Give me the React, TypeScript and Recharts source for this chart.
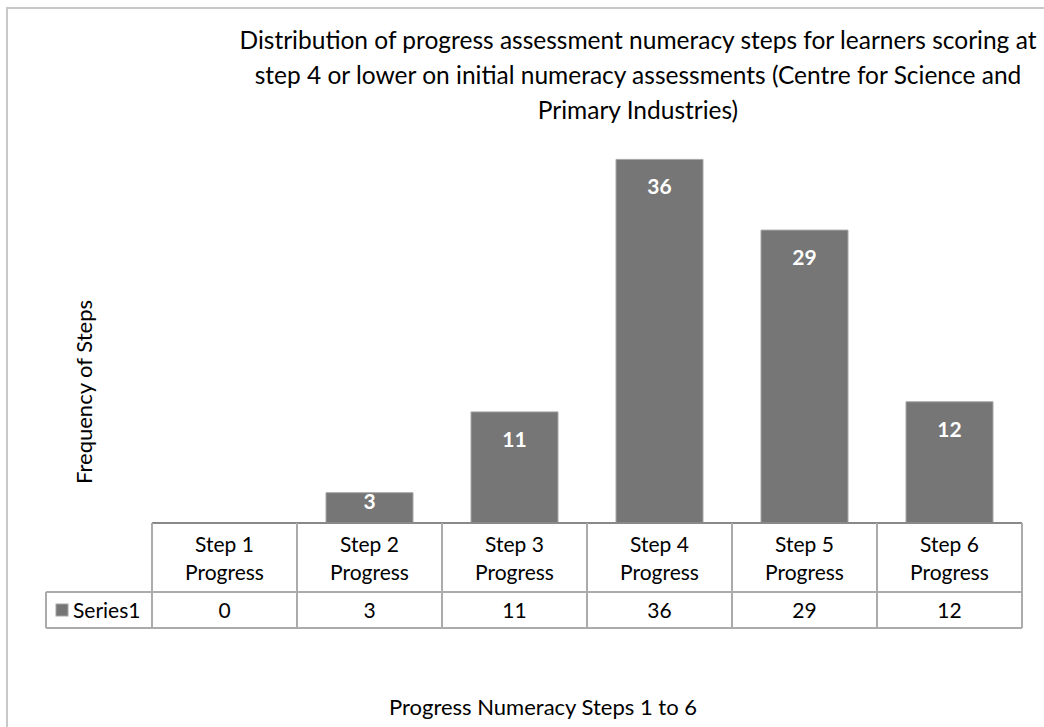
import { Bar, BarChart, LabelList, XAxis, YAxis } from "recharts";

const categories = [
  "Step 1 Progress",
  "Step 2 Progress",
  "Step 3 Progress",
  "Step 4 Progress",
  "Step 5 Progress",
  "Step 6 Progress",
];
const series1 = [0, 3, 11, 36, 29, 12];
const seriesName = "Series1";
const titleLines = [
  "Distribution of progress assessment numeracy steps for learners scoring at",
  "step 4 or lower on initial numeracy assessments (Centre for Science and",
  "Primary Industries)",
];
const yTitle = "Frequency of Steps";
const xTitle = "Progress Numeracy Steps 1 to 6";

const W = 1044;
const H = 727;
const margin = { top: 119, right: 22, bottom: 100, left: 152 };
const X_AXIS_H = 104;
const PLOT_BOTTOM = H - margin.bottom - X_AXIS_H;
const BAND = (W - margin.left - margin.right) / categories.length;
const ROW1 = PLOT_BOTTOM + 69;
const ROW2 = ROW1 + 36;
const FONT = "Lato, 'Open Sans', sans-serif";
const BAR_COLOR = "#767676";
const GRID = "#ababab";

const data = categories.map((c, i) => ({ category: c, value: series1[i] }));

function TableTick(props: any) {
  const { payload, index } = props;
  const cx = payload.coordinate;
  const x0 = cx - BAND / 2;
  const x1 = cx + BAND / 2;
  const label = String(payload.value);
  const cut = label.lastIndexOf(" ");
  const line1 = label.slice(0, cut);
  const line2 = label.slice(cut + 1);
  const last = index === categories.length - 1;

  return (
    <g fontFamily={FONT} fontSize={21} fill="#000">
      <line x1={x0} y1={PLOT_BOTTOM} x2={x0} y2={ROW2} stroke={GRID} strokeWidth={2} />
      {last && <line x1={x1} y1={PLOT_BOTTOM} x2={x1} y2={ROW2} stroke={GRID} strokeWidth={2} />}
      <line x1={x0} y1={ROW1} x2={x1} y2={ROW1} stroke={GRID} strokeWidth={2} />
      <line x1={x0} y1={ROW2} x2={x1} y2={ROW2} stroke={GRID} strokeWidth={2} />
      <text x={cx} y={PLOT_BOTTOM + 29} textAnchor="middle">{line1}</text>
      <text x={cx} y={PLOT_BOTTOM + 57} textAnchor="middle">{line2}</text>
      <text x={cx} y={ROW2 - 10} textAnchor="middle">{series1[index]}</text>
      {index === 0 && (
        <g>
          <line x1={46} y1={ROW1} x2={x0} y2={ROW1} stroke={GRID} strokeWidth={2} />
          <line x1={46} y1={ROW2} x2={x0} y2={ROW2} stroke={GRID} strokeWidth={2} />
          <line x1={46} y1={ROW1} x2={46} y2={ROW2} stroke={GRID} strokeWidth={2} />
          <rect x={56} y={ROW1 + 12} width={12} height={12} fill={BAR_COLOR} stroke="#a6a6a6" />
          <text x={73} y={ROW2 - 10}>{seriesName}</text>
        </g>
      )}
    </g>
  );
}

function BarValue(props: any) {
  const { x, y, width, value } = props;
  if (!value) return null;
  return (
    <text
      x={x + width / 2}
      y={Math.min(y + 35, PLOT_BOTTOM - 14)}
      textAnchor="middle"
      fontFamily={FONT}
      fontWeight="bold"
      fontSize={21}
      fill="#fff"
    >
      {value}
    </text>
  );
}

export default function App() {
  return (
    <div style={{ position: "absolute", left: 0, top: 0, width: W, height: H, overflow: "hidden", background: "#fff" }}>
      <BarChart width={W} height={H} data={data} margin={margin} barCategoryGap="20%">
        <XAxis
          dataKey="category"
          height={X_AXIS_H}
          axisLine={{ stroke: "#898989", strokeWidth: 2 }}
          tickLine={false}
          tick={<TableTick />}
          interval={0}
        />
        <YAxis hide domain={[0, 40]} />
        <Bar dataKey="value" fill={BAR_COLOR} stroke="#a6a6a6" strokeWidth={1} isAnimationActive={false}>
          <LabelList dataKey="value" content={<BarValue />} />
        </Bar>
      </BarChart>
      <svg width={W} height={H} style={{ position: "absolute", left: 0, top: 0, pointerEvents: "none" }}>
        <rect x={7} y={8} width={W} height={H} fill="none" stroke="#c8c8c8" strokeWidth={2} />
        <g fontFamily={FONT} fill="#000" textAnchor="middle">
          {titleLines.map((t, i) => (
            <text key={i} x={638} y={49 + i * 35} fontSize={24.5}>{t}</text>
          ))}
          <text x={92} y={392} fontSize={22} transform="rotate(-90 92 392)">{yTitle}</text>
          <text x={543} y={715} fontSize={22}>{xTitle}</text>
        </g>
      </svg>
    </div>
  );
}
